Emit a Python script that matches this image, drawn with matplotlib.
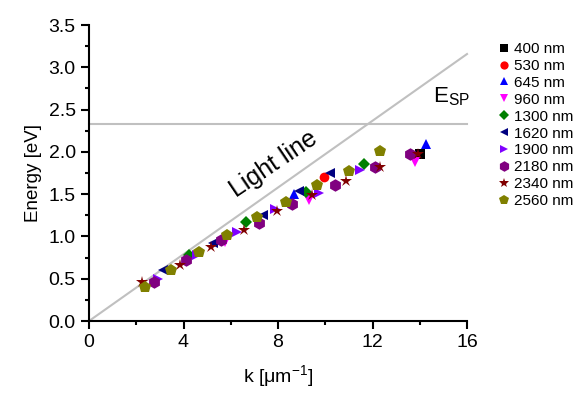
import matplotlib
matplotlib.use("Agg")
import matplotlib.pyplot as plt
from matplotlib.ticker import MultipleLocator
import numpy as np

plt.rcParams['font.family'] = ['Liberation Sans', 'DejaVu Sans']
plt.rcParams['mathtext.fontset'] = 'custom'
plt.rcParams['mathtext.rm'] = 'Liberation Sans'

labels = ["400 nm", "530 nm", "645 nm", "960 nm", "1300 nm", "1620 nm",
          "1900 nm", "2180 nm", "2340 nm", "2560 nm"]
colors = ["#000000", "#ff0000", "#0000ff", "#ff00ff", "#008000", "#000080",
          "#8000ff", "#800080", "#800000", "#808000"]
markers = ["s", "o", "^", "v", "D", "<", ">", "h", "*", "p"]

k_400 = [14.02]; e_400 = [1.98]
k_530 = [9.93]; e_530 = [1.70]
k_645 = [8.69, 14.28]; e_645 = [1.50, 2.09]
k_960 = [5.76, 9.30, 13.81]; e_960 = [0.94, 1.43, 1.88]
k_1300 = [4.22, 6.65, 9.19, 11.65]; e_1300 = [0.78, 1.17, 1.52, 1.86]
k_1620 = [3.15, 5.24, 7.36, 8.91, 10.20]; e_1620 = [0.60, 0.92, 1.25, 1.54, 1.75]
k_1900 = [2.94, 4.56, 6.26, 7.88, 9.72, 11.48]; e_1900 = [0.50, 0.78, 1.05, 1.33, 1.51, 1.78]
k_2180 = [2.75, 4.11, 5.60, 7.20, 8.59, 10.42, 12.12, 13.57]
e_2180 = [0.46, 0.72, 0.96, 1.16, 1.38, 1.61, 1.82, 1.98]
k_2340 = [2.23, 3.86, 5.16, 6.54, 7.95, 9.44, 10.89, 12.30, 13.91]
e_2340 = [0.46, 0.66, 0.87, 1.08, 1.30, 1.49, 1.65, 1.82, 1.98]
k_2560 = [2.37, 3.46, 4.66, 5.86, 7.10, 8.35, 9.65, 10.99, 12.30]
e_2560 = [0.40, 0.60, 0.82, 1.02, 1.23, 1.41, 1.61, 1.77, 2.01]

ks = [k_400, k_530, k_645, k_960, k_1300, k_1620, k_1900, k_2180, k_2340, k_2560]
es = [e_400, e_530, e_645, e_960, e_1300, e_1620, e_1900, e_2180, e_2340, e_2560]

light_k = [0, 16]
hbar_c = 0.1973  # eV*um
E_sp = 2.33

fig = plt.figure(figsize=(5.82, 3.94), dpi=100)
ax = fig.add_axes([89/582, 1-321/394, (467-89)/582, (321-25)/394])

ax.plot(light_k, [hbar_c*k for k in light_k], color="#c0c0c0", lw=1.5, zorder=1, clip_on=False)
ax.plot(light_k, [E_sp, E_sp], color="#c0c0c0", lw=1.5, zorder=1, clip_on=False)

handles = []
for k, e, c, m, lab in zip(ks, es, colors, markers, labels):
    ms = 9 if m in ("*", "h", "p") else 7
    if m == "D":
        ms = 6
    h, = ax.plot(k, e, linestyle="none", marker=m, color=c, markersize=ms,
                 markeredgewidth=0, label=lab, zorder=3, clip_on=False)
    handles.append(h)

ax.set_xlim(0, 16)
ax.set_ylim(0, 3.5)
ax.xaxis.set_major_locator(MultipleLocator(4))
ax.xaxis.set_minor_locator(MultipleLocator(2))
ax.yaxis.set_major_locator(MultipleLocator(0.5))
ax.yaxis.set_minor_locator(MultipleLocator(0.25))
ax.set_yticks(np.arange(0, 3.51, 0.5))
ax.set_yticklabels([f"{v:.1f}" for v in np.arange(0, 3.51, 0.5)])
for s in ("top", "right"):
    ax.spines[s].set_visible(False)
for s in ("left", "bottom"):
    ax.spines[s].set_linewidth(1.5)
ax.tick_params(which="major", direction="out", length=6, width=1.5, labelsize=14)
ax.tick_params(which="minor", direction="out", length=3, width=1.5)

ax.set_xlabel("k [μm$^{-1}$]", fontsize=14, labelpad=9)
ax.set_ylabel("Energy [eV]", fontsize=13.5, labelpad=5)

ax.text(7.8, 1.86, "Light line", rotation=34, fontsize=18, ha="center", va="center")
ax.text(14.55, 2.58, r"E$_{\mathregular{SP}}$", fontsize=16, ha="left", va="baseline")

leg = fig.legend(handles=handles, loc="upper left", bbox_to_anchor=(497/582, 1-42/394),
                 frameon=False, fontsize=11, handletextpad=0.2, labelspacing=0.19,
                 handlelength=0.9, borderaxespad=0, borderpad=0, markerscale=0.85)

fig.savefig("out.png", dpi=100)
